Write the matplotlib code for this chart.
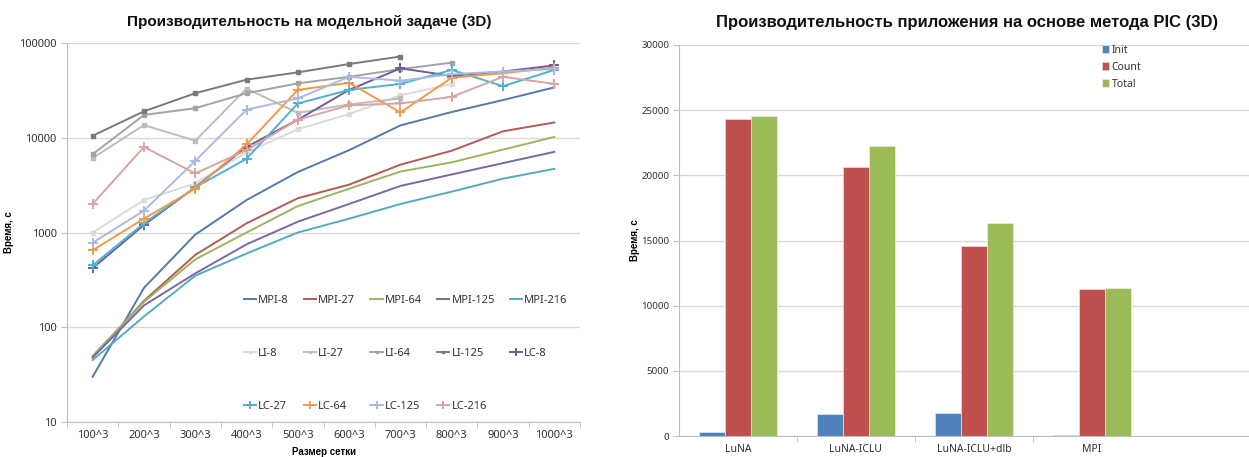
import matplotlib
matplotlib.use("Agg")
import matplotlib.pyplot as plt
import numpy as np

plt.rcParams['font.family'] = ['Noto Sans', 'DejaVu Sans']
BOLD = ['Liberation Sans', 'DejaVu Sans']

# ---------------- data: left chart ----------------
grid_sizes = ["100^3", "200^3", "300^3", "400^3", "500^3", "600^3", "700^3", "800^3", "900^3", "1000^3"]

mpi_8   = [30, 260, 950, 2200, 4350, 7400, 13500, 18700, 25000, 34000]
mpi_27  = [48, 190, 580, 1250, 2300, 3200, 5200, 7300, 11700, 14500]
mpi_64  = [50, 185, 520, 1000, 1900, 2900, 4400, 5500, 7500, 10200]
mpi_125 = [48, 170, 370, 750, 1300, 2000, 3100, 4100, 5400, 7100]
mpi_216 = [45, 130, 350, 600, 1000, 1400, 2000, 2700, 3700, 4700]

li_8   = [1000, 2200, 3300, 7000, 12300, 17800, 28000, 37000]
li_27  = [6100, 13600, 9300, 33000, 18300, 22500, 26000]
li_64  = [6700, 17400, 20500, 29500, 37500, 44000, 53000, 62000]
li_125 = [10500, 19000, 29500, 41000, 49000, 60000, 72000]

lc_8   = [420, 1200, 3000, 8000, 15500, 32000, 54000, 45000, 50000, 58000]
lc_27  = [450, 1250, 3000, 6000, 23000, 32000, 37000, 52000, 35000, 52000]
lc_64  = [650, 1400, 2900, 8500, 32000, 38000, 18500, 43000, 48000, 55000]
lc_125 = [780, 1700, 5700, 19800, 26000, 44000, 40000, 47000, 50000, 53000]
lc_216 = [2000, 8000, 4200, 7400, 15500, 22000, 23000, 27000, 44000, 37000]

# ---------------- data: right chart ----------------
apps = ["LuNA", "LuNA-ICLU", "LuNA-ICLU+dlb", "MPI"]
init_t  = [280, 1650, 1800, 50]
count_t = [24330, 20660, 14570, 11300]
total_t = [24560, 22280, 16370, 11330]

W, H = 1249, 457
fig = plt.figure(figsize=(W / 100, H / 100), dpi=100)
fig.patch.set_facecolor("white")

# ======== left chart ========
axL = fig.add_axes([67 / W, 1 - 422 / H, (580 - 67) / W, (422 - 43) / H])
x = np.arange(len(grid_sizes))

series = [
    ("MPI-8", mpi_8, "#5479ad", None),
    ("MPI-27", mpi_27, "#b35b57", None),
    ("MPI-64", mpi_64, "#9cb563", None),
    ("MPI-125", mpi_125, "#7c68a0", None),
    ("MPI-216", mpi_216, "#55aac2", None),
    ("LI-8", li_8, "#dadada", "s"),
    ("LI-27", li_27, "#bdbdbd", "s"),
    ("LI-64", li_64, "#a3a3a3", "s"),
    ("LI-125", li_125, "#7a7a7a", "s"),
    ("LC-8", lc_8, "#6f5e9c", "+"),
    ("LC-27", lc_27, "#4fb3d0", "+"),
    ("LC-64", lc_64, "#f39a4a", "+"),
    ("LC-125", lc_125, "#a9bbe2", "+"),
    ("LC-216", lc_216, "#d9a4a4", "+"),
]

handles = {}
for name, vals, col, mk in series:
    xs = x[:len(vals)]
    if mk is None:
        h, = axL.plot(xs, vals, color=col, lw=1.4)
    elif mk == "s":
        h, = axL.plot(xs, vals, color=col, lw=1.4, marker="s", ms=2.5)
    else:
        h, = axL.plot(xs, vals, color=col, lw=1.4, marker="+", ms=7, mew=1.4)
    handles[name] = h

axL.set_yscale("log")
axL.set_ylim(10, 100000)
axL.set_xlim(-0.5, len(grid_sizes) - 0.5)
axL.set_yticks([10, 100, 1000, 10000, 100000])
axL.set_yticklabels(["10", "100", "1000", "10000", "100000"])
axL.yaxis.set_minor_locator(matplotlib.ticker.NullLocator())
axL.set_xticks(x)
axL.set_xticklabels(grid_sizes)
axL.set_xticks(np.arange(-0.5, len(grid_sizes)), minor=True)
axL.tick_params(axis="x", which="major", length=0, labelsize=8, colors="#333333", pad=6)
axL.tick_params(axis="x", which="minor", length=4, color="#bfbfbf")
axL.tick_params(axis="y", which="major", length=4, color="#bfbfbf", labelsize=8, labelcolor="#333333")
axL.grid(axis="y", which="major", color="#d9d9d9", lw=1)
axL.set_axisbelow(True)
for s in ["top", "right"]:
    axL.spines[s].set_visible(False)
for s in ["left", "bottom"]:
    axL.spines[s].set_color("#bfbfbf")
fig.text(309 / W, 1 - 22 / H, "Производительность на модельной задаче (3D)",
         ha="center", va="center", fontsize=11, fontweight="bold", family=BOLD, color="#111111")
axL.set_ylabel("Время, с", fontsize=7, fontweight="bold", family=BOLD)
axL.yaxis.set_label_coords(-(67 - 14) / (580 - 67), 0.5)
axL.set_xlabel("Размер сетки", fontsize=7, fontweight="bold", family=BOLD, labelpad=4)

order = ["MPI-8", "LI-8", "LC-27",
         "MPI-27", "LI-27", "LC-64",
         "MPI-64", "LI-64", "LC-125",
         "MPI-125", "LI-125", "LC-216",
         "MPI-216", "LC-8"]
leg = axL.legend([handles[n] for n in order], order, ncol=5, loc="lower left",
                 bbox_to_anchor=(0.325, 0.0), frameon=False, fontsize=8,
                 labelspacing=3.8, handlelength=1.1, handletextpad=0.2,
                 columnspacing=1.35, markerscale=0.8)
for t in leg.get_texts():
    t.set_color("#333333")

# ======== right chart ========
axR = fig.add_axes([679 / W, 1 - 436 / H, (W - 679) / W, (436 - 45) / H])
xr = np.arange(len(apps))
bw = 0.22
axR.bar(xr - bw, init_t, bw, color="#4f81bd", label="Init", edgecolor="#dfe8f3", lw=0.5)
axR.bar(xr, count_t, bw, color="#c0504d", label="Count", edgecolor="#f2dcdb", lw=0.5)
axR.bar(xr + bw, total_t, bw, color="#9bbb59", label="Total", edgecolor="#ebf1de", lw=0.5)
axR.set_ylim(0, 30000)
axR.set_xlim(-0.5, -0.5 + (W - 679) / 118.0)
axR.set_yticks(np.arange(0, 30001, 5000))
axR.set_xticks(xr)
axR.set_xticklabels(apps)
axR.set_xticks(np.arange(0.5, len(apps) - 0.5), minor=True)
axR.tick_params(axis="x", which="major", length=0, labelsize=7.5, colors="#333333", pad=6)
axR.tick_params(axis="x", which="minor", length=4, color="#bfbfbf")
axR.tick_params(axis="y", length=4, pad=3, color="#bfbfbf", labelsize=7, labelcolor="#333333")
axR.grid(axis="y", color="#d9d9d9", lw=1)
axR.set_axisbelow(True)
for s in ["top", "right"]:
    axR.spines[s].set_visible(False)
for s in ["left", "bottom"]:
    axR.spines[s].set_color("#bfbfbf")
axR.set_ylabel("Время, с", fontsize=7, fontweight="bold", family=BOLD)
axR.yaxis.set_label_coords(-(679 - 640) / (W - 679), 0.5)
fig.text(967 / W, 1 - 22 / H, "Производительность приложения на основе метода PIC (3D)",
         ha="center", va="center", fontsize=12, fontweight="bold", family=BOLD, color="#111111")
legR = axR.legend(loc="upper left", bbox_to_anchor=((1093 - 679) / (W - 679), 1.025),
                  frameon=False, fontsize=7.5, handlelength=0.6, handleheight=0.8,
                  handletextpad=0.3, labelspacing=0.6)
for t in legR.get_texts():
    t.set_color("#333333")

fig.savefig("out.png", dpi=100, facecolor="white")
